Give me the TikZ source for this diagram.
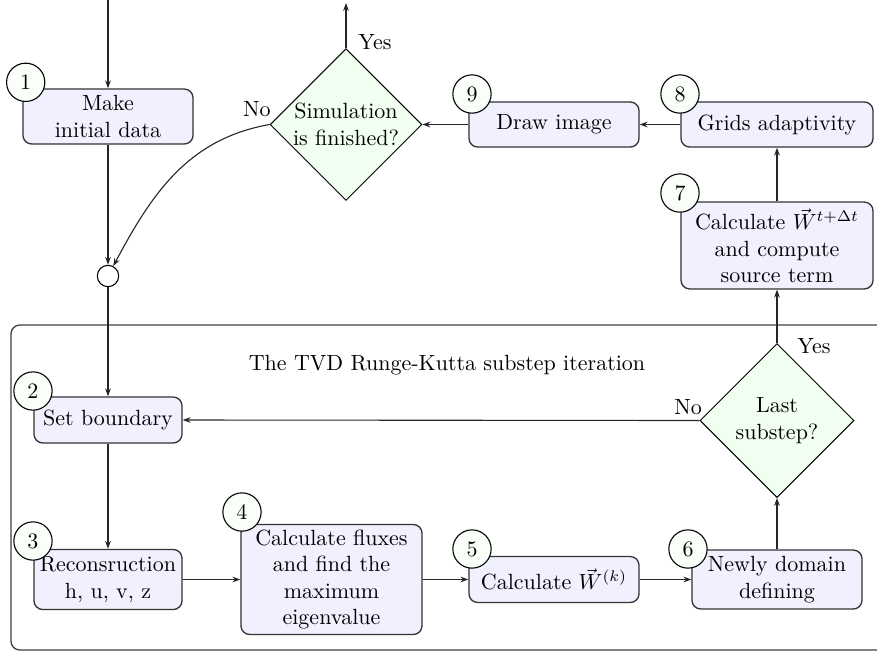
\documentclass[tikz,border=0pt]{standalone}
\usetikzlibrary{shapes.geometric,arrows.meta}
\begin{document}
\begin{tikzpicture}[x=0.4545pt,y=-0.4545pt,
  stepbox/.style={draw=black!80,line width=0.6pt,fill=blue!6,rounded corners=4pt,
    align=center,inner sep=1pt},
  decision/.style={diamond,aspect=1,draw=black,line width=0.45pt,fill=green!6,
    align=center,inner sep=0pt,minimum width=70pt,minimum height=70pt},
  numcirc/.style={circle,draw=black,line width=0.5pt,fill=green!2,inner sep=0pt,minimum size=17.4pt},
  junction/.style={circle,draw=black,line width=0.5pt,fill=white,inner sep=0pt,minimum size=9.7pt},
  flow/.style={draw=black!85,line width=0.5pt,-{Stealth[length=3.6pt,width=2.6pt]}},
  lbl/.style={inner sep=0pt}]
\useasboundingbox (0,0) rectangle (877,652);

% frame of the substep loop
\draw[black!75,line width=0.6pt,rounded corners=4pt] (11,325) rectangle (900,650);
\node[lbl] (title) at (447,365) {The TVD Runge-Kutta substep iteration};

% process boxes
\node[stepbox,minimum width=77.3pt,minimum height=25pt] (b1) at (108,116.5) {Make\\initial data};
\node[stepbox,minimum width=67.3pt,minimum height=20.9pt] (b2) at (108,420) {Set boundary};
\node[stepbox,minimum width=67.3pt,minimum height=27.3pt] (b3) at (108,579.5) {Reconsruction\\h, u, v, z};
\node[stepbox,minimum width=82.3pt,minimum height=50pt] (b4) at (331.5,579.5) {Calculate fluxes\\and find the\\maximum\\eigenvalue};
\node[stepbox,minimum width=77.3pt,minimum height=20.9pt] (b5) at (554,579.5) {Calculate $\vec{W}^{(k)}$};
\node[stepbox,minimum width=77.3pt,minimum height=26.8pt] (b6) at (777,579.5) {Newly domain\\defining};
\node[stepbox,minimum width=87.3pt,minimum height=39.5pt] (b7) at (777,245.5) {Calculate $\vec{W}^{t+\Delta t}$\\and compute\\source term};
\node[stepbox,minimum width=87.3pt,minimum height=20.5pt] (b8) at (777,124.5) {Grids adaptivity};
\node[stepbox,minimum width=77.3pt,minimum height=20.5pt] (b9) at (554,124.5) {Draw image};

% decisions
\node[decision,minimum width=69pt,minimum height=69pt] (d1) at (346,124.5) {Simulation\\is finished?};
\node[decision] (d2) at (777,420.5) {Last\\substep?};

% junction
\node[junction] (jc) at (108,276) {};

% step numbers
\node[numcirc] (n1) at (25.7,82.3) {1};
\node[numcirc] (n2) at (33,391) {2};
\node[numcirc] (n3) at (33,541) {3};
\node[numcirc] (n4) at (242,512) {4};
\node[numcirc] (n5) at (472,549) {5};
\node[numcirc] (n6) at (688,549) {6};
\node[numcirc] (n7) at (680,193) {7};
\node[numcirc] (n8) at (680,94) {8};
\node[numcirc] (n9) at (472,94) {9};

% free ends
\coordinate (start) at (108,0);
\coordinate (finish) at (346,3);

% connectors
\draw[flow] (start) -- (b1.north);
\draw[flow] (b1) -- (jc);
\draw[flow] (jc) -- (b2);
\draw[flow] (b2) -- (b3);
\draw[flow] (b3) -- (b4);
\draw[flow] (b4) -- (b5);
\draw[flow] (b5) -- (b6);
\draw[flow] (b6) -- (d2);
\draw[flow] (d2.west) -- (b2.east);
\draw[flow] (d2.north) -- (b7.south);
\draw[flow] (b7) -- (b8);
\draw[flow] (b8) -- (b9);
\draw[flow] (b9) -- (d1.east);
\draw[flow] (d1.north) -- (finish);
\draw[flow] (d1.west) to[out=190,in=62] (jc);

% branch labels
\node[lbl] (no1) at (257,109) {No};
\node[lbl] (yes1) at (375,42) {Yes};
\node[lbl] (no2) at (688,407) {No};
\node[lbl] (yes2) at (814,346) {Yes};
\end{tikzpicture}
\end{document}
